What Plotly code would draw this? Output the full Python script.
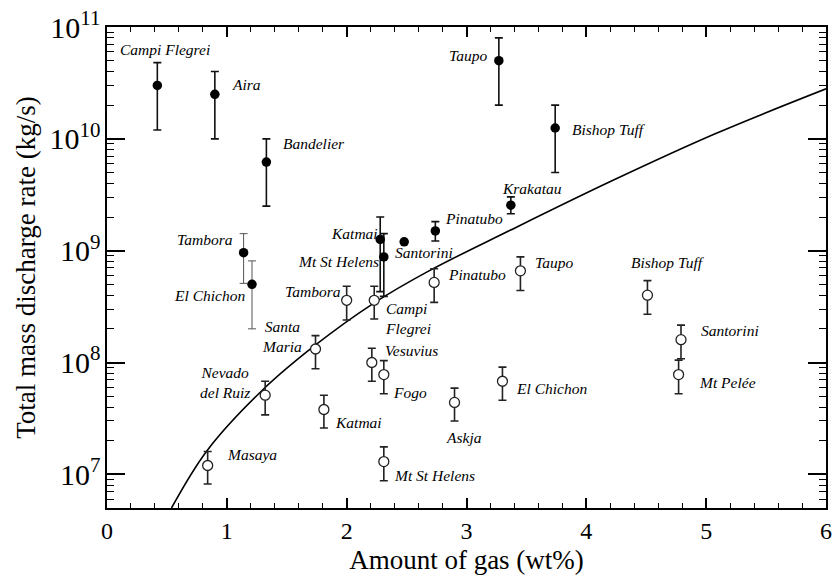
import plotly.graph_objects as go
import numpy as np

# ---------------- data ----------------
# filled circles
f_names = ["Campi Flegrei", "Aira", "Bandelier", "Tambora", "El Chichon", "Katmai",
           "Mt St Helens", "Santorini", "Pinatubo", "Krakatau", "Taupo", "Bishop Tuff"]
f_x = [0.42, 0.90, 1.33, 1.14, 1.21, 2.28, 2.31, 2.48, 2.74, 3.37, 3.27, 3.74]
f_y = [3.0e10, 2.5e10, 6.2e9, 9.6e8, 5.0e8, 1.26e9, 8.8e8, 1.2e9, 1.5e9, 2.55e9, 5.0e10, 1.25e10]
f_hi = [4.8e10, 4.0e10, 1.0e10, 1.42e9, 8.1e8, 2.0e9, 1.42e9, 1.2e9, 1.82e9, 3.03e9, 8.0e10, 2.0e10]
f_lo = [1.2e10, 1.0e10, 2.5e9, 5.1e8, 2.0e8, 4.3e8, 3.9e8, 1.2e9, 1.22e9, 2.14e9, 2.0e10, 5.0e9]
f_thin = [False, False, False, True, True, False, False, False, False, False, False, False]

# open circles
o_names = ["Masaya", "Nevado del Ruiz", "Santa Maria", "Katmai", "Tambora", "Vesuvius",
           "Campi Flegrei", "Fogo", "Mt St Helens", "Pinatubo", "Askja", "El Chichon",
           "Taupo", "Bishop Tuff", "Mt Pelée", "Santorini"]
o_x = [0.84, 1.32, 1.74, 1.81, 2.00, 2.21, 2.23, 2.31, 2.31, 2.73, 2.90, 3.30, 3.45, 4.51, 4.77, 4.79]
o_y = [1.2e7, 5.1e7, 1.32e8, 3.8e7, 3.6e8, 1.0e8, 3.6e8, 7.8e7, 1.3e7, 5.2e8, 4.4e7, 6.8e7,
       6.6e8, 4.0e8, 7.8e7, 1.6e8]
o_hi = [1.6e7, 6.8e7, 1.74e8, 5.1e7, 4.8e8, 1.34e8, 4.8e8, 1.04e8, 1.76e7, 6.9e8, 5.9e7, 9.1e7,
        8.8e8, 5.4e8, 1.05e8, 2.16e8]
o_lo = [8.2e6, 3.4e7, 8.8e7, 2.6e7, 2.4e8, 6.8e7, 2.45e8, 5.25e7, 8.75e6, 3.45e8, 3.0e7, 4.6e7,
        4.4e8, 2.7e8, 5.25e7, 1.08e8]

# model curve
c_x = [0.538, 0.833, 1.294, 1.735, 2.224, 2.687, 3.364, 4.205, 5.075, 6.0]
c_y = [5.0e6, 1.62e7, 5.62e7, 1.42e8, 3.38e8, 6.59e8, 1.52e9, 4.17e9, 1.11e10, 2.8e10]

# label positions (x in wt%, y as log10 of rate), text, anchor
labels = [
    ("Campi Flegrei", 0.091, 10.795, "left"),
    ("Aira", 1.024, 10.483, "left"),
    ("Bandelier", 1.454, 9.955, "left"),
    ("Tambora", 0.571, 9.097, "left"),
    ("Katmai", 1.854, 9.152, "left"),
    ("Mt St Helens", 1.578, 8.899, "left"),
    ("Santorini", 2.383, 8.983, "left"),
    ("El Chichon", 0.544, 8.602, "left"),
    ("Pinatubo", 2.803, 9.286, "left"),
    ("Krakatau", 3.280, 9.556, "left"),
    ("Taupo", 2.839, 10.742, "left"),
    ("Bishop Tuff", 3.865, 10.082, "left"),
    ("Taupo", 3.556, 8.894, "left"),
    ("Bishop Tuff", 4.356, 8.894, "left"),
    ("Pinatubo", 2.825, 8.783, "left"),
    ("Tambora", 1.465, 8.632, "left"),
    ("Campi<br>Flegrei", 2.301, 8.396, "left"),
    ("Santa<br>Maria", 1.459, 8.235, "center"),
    ("Vesuvius", 2.301, 8.106, "left"),
    ("Fogo", 2.369, 7.735, "left"),
    ("Nevado<br>del Ruiz", 0.981, 7.820, "center"),
    ("Katmai", 1.887, 7.468, "left"),
    ("Askja", 2.816, 7.325, "left"),
    ("Mt St Helens", 2.375, 6.987, "left"),
    ("El Chichon", 3.396, 7.765, "left"),
    ("Santorini", 4.941, 8.284, "left"),
    ("Mt Pelée", 4.922, 7.818, "left"),
    ("Masaya", 0.985, 7.176, "left"),
]

FONT = "Liberation Serif"

fig = go.Figure()

# model curve
fig.add_trace(go.Scatter(x=c_x, y=c_y, mode="lines",
                         line=dict(color="black", width=1.6, shape="spline", smoothing=1.0),
                         hoverinfo="skip", showlegend=False))

# open circles
o_y_a = np.array(o_y)
fig.add_trace(go.Scatter(
    x=o_x, y=o_y, mode="markers", text=o_names, showlegend=False,
    marker=dict(symbol="circle", size=10, color="white", line=dict(color="#222", width=1.3)),
    error_y=dict(type="data", symmetric=False,
                 array=list(np.array(o_hi) - o_y_a), arrayminus=list(o_y_a - np.array(o_lo)),
                 color="#222", thickness=1.6, width=4)))

# filled circles (bold error bars and thin grey ones)
idx_b = [i for i in range(len(f_x)) if not f_thin[i]]
idx_t = [i for i in range(len(f_x)) if f_thin[i]]
for idx, col, th in [(idx_b, "#111", 1.6), (idx_t, "#555", 1.0)]:
    xs = [f_x[i] for i in idx]
    ys = np.array([f_y[i] for i in idx])
    hi = np.array([f_hi[i] for i in idx])
    lo = np.array([f_lo[i] for i in idx])
    fig.add_trace(go.Scatter(
        x=xs, y=list(ys), mode="markers", text=[f_names[i] for i in idx], showlegend=False,
        marker=dict(symbol="circle", size=9.5, color="black"),
        error_y=dict(type="data", symmetric=False, array=list(hi - ys), arrayminus=list(ys - lo),
                     color=col, thickness=th, width=4)))

for txt, lx, ly, anc in labels:
    fig.add_annotation(x=lx, y=ly, xref="x", yref="y", text=txt, showarrow=False,
                       xanchor=anc, yanchor="middle", align=anc,
                       font=dict(family=FONT, size=15.5, color="black", style="italic"))

axis_common = dict(showline=True, linecolor="black", linewidth=1.5, mirror="ticks",
                   ticks="inside", tickcolor="black", showgrid=False, zeroline=False,
                   tickfont=dict(family=FONT, size=24, color="black"))

fig.update_xaxes(range=[0, 6], dtick=1, tick0=0, ticklen=10, tickwidth=1.5,
                 minor=dict(dtick=0.2, ticks="inside", ticklen=5, tickwidth=1.2, tickcolor="black"),
                 title=dict(text="Amount of gas (wt%)", font=dict(family=FONT, size=27, color="black"),
                            standoff=8),
                 **axis_common)
fig.update_yaxes(type="log", range=[np.log10(5e6), 11], dtick=1, exponentformat="power",
                 ticklen=18, tickwidth=1.5,
                 minor=dict(dtick="D1", ticks="inside", ticklen=7, tickwidth=1.2, tickcolor="black"),
                 title=dict(text="Total mass discharge rate (kg/s)",
                            font=dict(family=FONT, size=27, color="black"), standoff=6),
                 **axis_common)

fig.update_layout(width=837, height=579, margin=dict(l=107, r=5, t=27, b=71),
                  paper_bgcolor="white", plot_bgcolor="white",
                  font=dict(family=FONT, color="black"))

fig.write_html("out.html")
